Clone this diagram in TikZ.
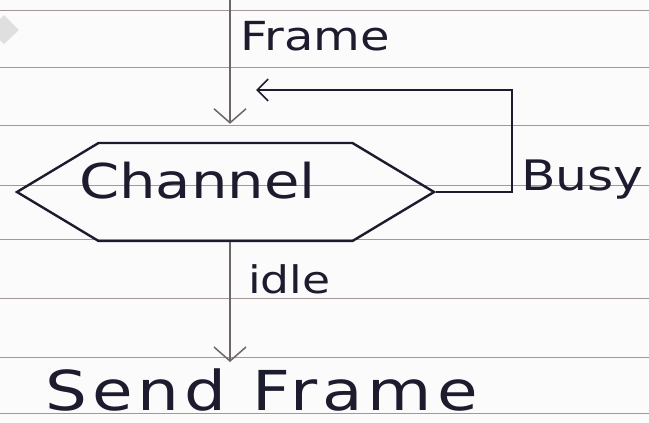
\documentclass[tikz,border=0pt]{standalone}
\usepackage{fontspec}
\usepackage{tikz}
\usetikzlibrary{arrows.meta,positioning,shapes.symbols}
\newfontfamily\hand[FakeStretch=1.2]{DejaVu Sans}
\definecolor{ink}{HTML}{1C1C2E}
\definecolor{pencil}{HTML}{6E6666}
\definecolor{rule}{HTML}{A39797}
\definecolor{paper}{HTML}{FCFBFB}
\tikzset{
  ruled/.style={rule,line width=1pt},
  lbl/.style={ink,inner sep=0pt,anchor=base west},
  chanbox/.style={draw=ink,line width=2.4pt,signal,signal to=west and east,
    signal pointer angle=62,minimum width=417pt,minimum height=98pt,inner sep=0pt},
  down/.style={pencil,line width=1.3pt,-{Straight Barb[length=14pt,width=32pt,line width=1.5pt]}},
  back/.style={ink,line width=2.2pt,-{Straight Barb[length=11pt,width=22pt,line width=1.6pt]}}
}
\begin{document}
\begin{tikzpicture}[x=1pt,y=-1pt]
\useasboundingbox[fill=paper] (0,0) rectangle (649,423);
% lines of the paper
\foreach \y in {10,67,125,185,239,298,357,413}{\draw[ruled] (0,\y)--(649,\y);}
\fill[gray!25] (4,15)--(19,30)--(4,44)--(-10,30)--cycle;
% nodes
\node[chanbox] (chan) at (225.5,192) {};
\node[lbl,font=\hand\fontsize{48}{50}\selectfont] (chanlbl) at (79,198) {Channel};
\node[lbl,font=\hand\fontsize{40}{42}\selectfont] (frame) at (240,50) {Frame};
\node[lbl,font=\hand\fontsize{42}{44}\selectfont] (busy) at (521,190) {Busy};
\node[lbl,font=\hand\fontsize{38}{40}\selectfont] (idle) at (248,293) {idle};
\node[lbl,font=\hand\fontsize{55}{57}\selectfont\addfontfeature{LetterSpace=9}] (send) at (45,410) {Send Frame};
\coordinate (ftop) at (230,0);
\coordinate (loopin) at (256,90);
% connectors
\draw[down] (ftop) -- ([yshift=18pt]chan.north -| ftop);
\draw[back] (chan.east) -- ++(76,0) |- (loopin);
\draw[down] (chan.south -| ftop) -- ([yshift=6pt]send.north -| ftop);
\end{tikzpicture}
\end{document}
